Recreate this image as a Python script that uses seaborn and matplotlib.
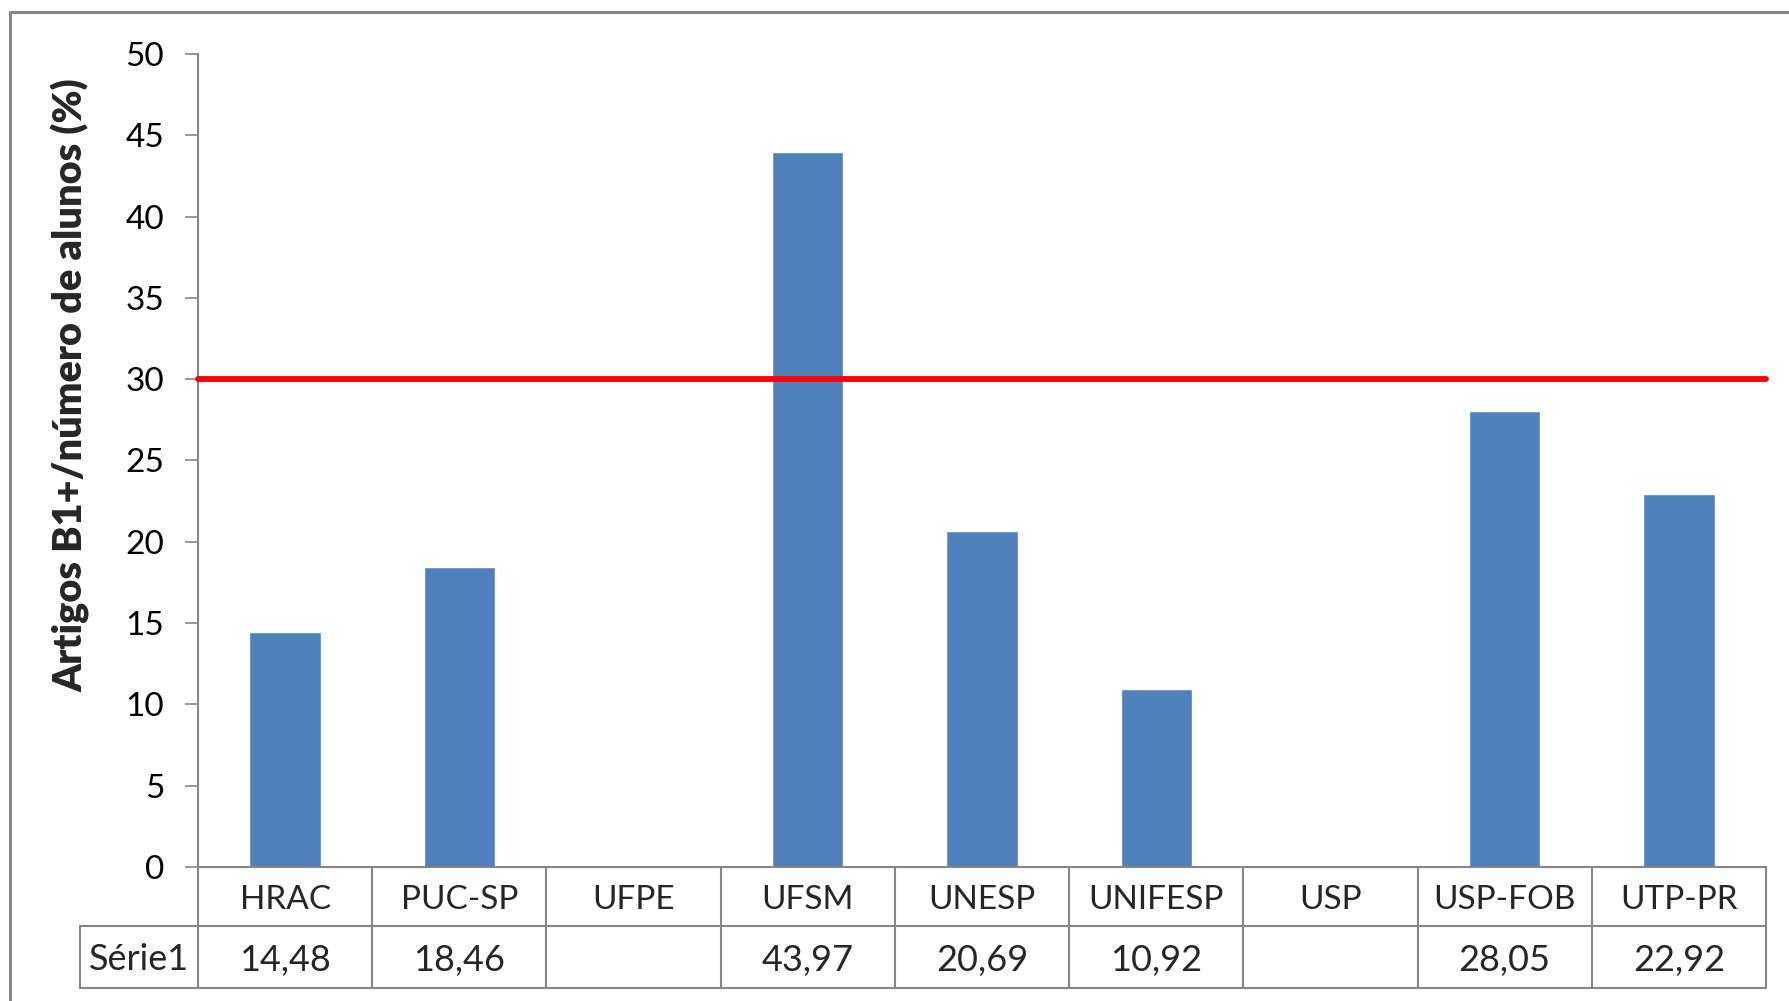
import numpy as np
import pandas as pd
import matplotlib
matplotlib.use("Agg")
import matplotlib.pyplot as plt
import seaborn as sns
from matplotlib.lines import Line2D
from matplotlib.transforms import blended_transform_factory

# chart data
categories = ["HRAC", "PUC-SP", "UFPE", "UFSM", "UNESP", "UNIFESP", "USP", "USP-FOB", "UTP-PR"]
values = [14.48, 18.46, np.nan, 43.97, 20.69, 10.92, np.nan, 28.05, 22.92]
series_name = "Série1"
reference_level = 30
y_label = "Artigos B1+/número de alunos (%)"
y_ticks = list(range(0, 51, 5))

BAR_COLOR = "#4F81BD"
GRID_GRAY = "#868686"

sns.set_style("white")
plt.rcParams["font.family"] = ["Lato", "DejaVu Sans"]

W, H = 1789, 1001
fig = plt.figure(figsize=(W / 100, H / 100), dpi=100)
ax = fig.add_axes([198 / W, 1 - 867 / H, (1766 - 198) / W, (867 - 54) / H])

df = pd.DataFrame({"inst": categories, "val": values})
sns.barplot(data=df, x="inst", y="val", order=categories, color=BAR_COLOR,
            width=0.41, saturation=1, ax=ax)

ax.axhline(reference_level, color="#FF0000", lw=4.2, zorder=5, clip_on=False)

ax.set_xlim(-0.5, len(categories) - 0.5)
ax.set_ylim(y_ticks[0], y_ticks[-1])
ax.set_yticks(y_ticks)
ax.set_xticks([])
ax.set_xlabel("")
ax.set_ylabel("")
ax.tick_params(axis="y", direction="out", length=9.4, width=1.2, color=GRID_GRAY,
               pad=15, labelsize=24, labelcolor="#000000", left=True)
for side in ["top", "right"]:
    ax.spines[side].set_visible(False)
for side in ["left", "bottom"]:
    ax.spines[side].set_color(GRID_GRAY)
    ax.spines[side].set_linewidth(1.5)

fig.text(71 / W, 1 - 385 / H, y_label, rotation=90, ha="center", va="center",
         fontsize=28.5, fontweight="heavy")

# data table under the plot
tr = blended_transform_factory(ax.transData, fig.transFigure)
y_top = 1 - 867 / H
y_mid = 1 - 926 / H
y_bot = 1 - 988 / H
x_left = -0.5 - (198 - 80) / ((1766 - 198) / len(categories))
x_right = len(categories) - 0.5
line_kw = dict(color=GRID_GRAY, lw=1.5, transform=tr, clip_on=False)

ax.plot([x_left, x_right], [y_mid, y_mid], **line_kw)
ax.plot([x_left, x_right], [y_bot, y_bot], **line_kw)
ax.plot([x_left, x_left], [y_mid, y_bot], **line_kw)
for i in range(len(categories) + 1):
    ax.plot([i - 0.5, i - 0.5], [y_top, y_bot], **line_kw)

head_y = 1 - 900 / H
row_y = 1 - 960 / H
for i, (cat, v) in enumerate(zip(categories, values)):
    ax.text(i, head_y, cat, transform=tr, ha="center", va="center",
            fontsize=24, clip_on=False)
    if not np.isnan(v):
        ax.text(i, row_y, f"{v:.2f}".replace(".", ","), transform=tr,
                ha="center", va="center", fontsize=26, clip_on=False)
ax.text((x_left - 0.5) / 2, row_y, series_name, transform=tr,
        ha="center", va="center", fontsize=26, clip_on=False)

# outer chart frame
fig.add_artist(Line2D([10 / W, 1.01], [1 - 12 / H, 1 - 12 / H], color="#878787", lw=2.2,
                      transform=fig.transFigure))
fig.add_artist(Line2D([10 / W, 10 / W], [-0.01, 1 - 12 / H], color="#878787", lw=2.2,
                      transform=fig.transFigure))

fig.savefig("out.png", dpi=100, facecolor="white")
